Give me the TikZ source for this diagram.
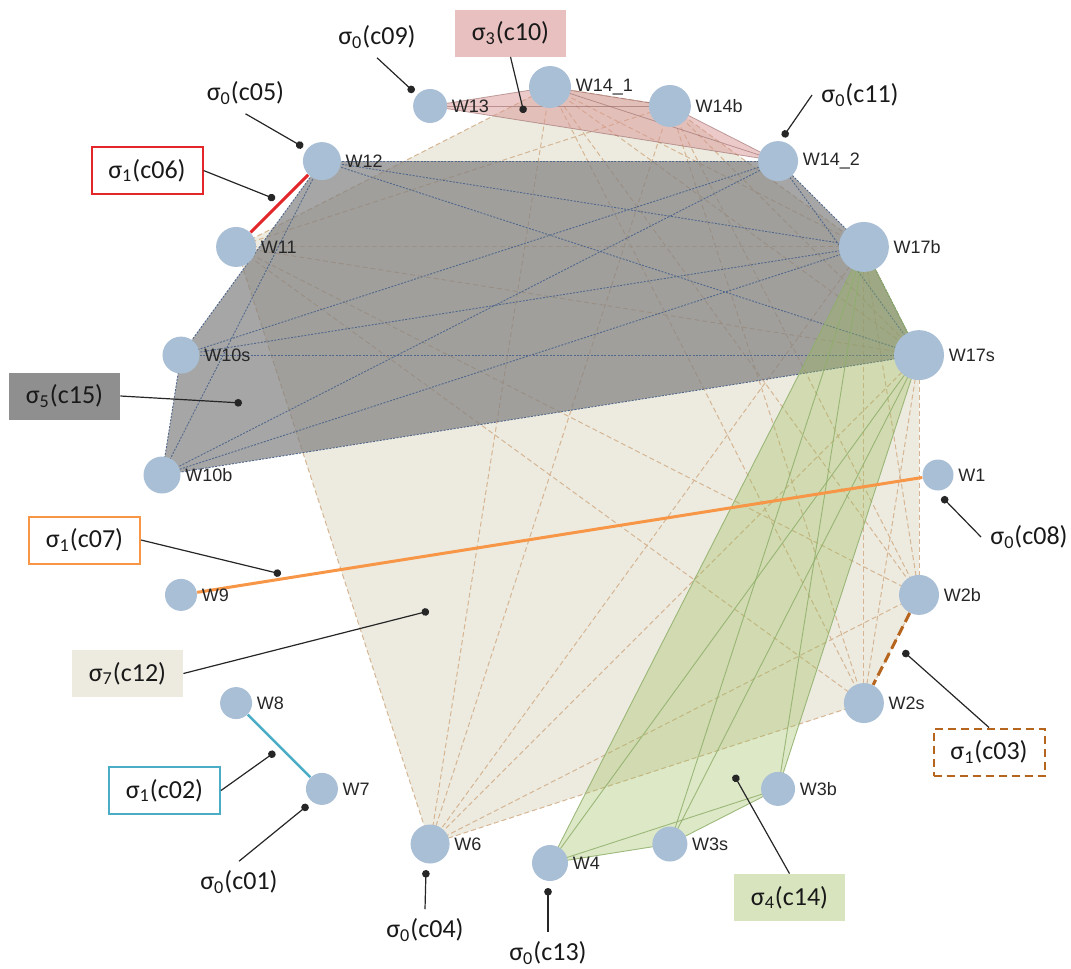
\documentclass[tikz,border=0pt]{standalone}
\usepackage{fontspec}
\setmainfont{Carlito}
\newfontfamily\wfont{Liberation Sans}
\usepackage{tikz}
\usetikzlibrary{arrows.meta,backgrounds}
\definecolor{wblue}{HTML}{A9BFD6}
\definecolor{beige}{HTML}{EDEBE0}
\definecolor{tan}{HTML}{D5B593}
\definecolor{slate}{HTML}{51688C}
\definecolor{olive}{HTML}{9BBB59}
\definecolor{oliveedge}{HTML}{8FAF6A}
\definecolor{rose}{HTML}{D99694}
\definecolor{redline}{HTML}{E3262A}
\definecolor{orangeline}{HTML}{F79646}
\definecolor{tealline}{HTML}{4BACC6}
\definecolor{brownline}{HTML}{B5651D}
\newcommand{\sg}[2]{σ\textsubscript{#1}(#2)}
% all edges of a simplex
\newcommand{\simplexedges}[2]{%
  \foreach \a [count=\i] in {#2} {%
    \foreach \b [count=\j] in {#2} {%
      \ifnum\j>\i \draw[#1] (\a.center) -- (\b.center);\fi}}}

\begin{document}
\begin{tikzpicture}[x=0.5pt,y=-0.5pt,
  wnode/.style={circle,fill=wblue,inner sep=0pt},
  wlab/.style={font=\wfont\fontsize{9}{9}\selectfont,text=black!85,inner sep=2pt},
  sig0/.style={font=\fontsize{13}{13}\selectfont,text=black!90,inner sep=4.5pt},
  sigbox/.style={font=\fontsize{13}{13}\selectfont,text=black!90,minimum width=55.5pt,
                 minimum height=23.5pt,inner sep=0pt},
  leader/.style={draw=black!85,line width=0.6pt,-{Circle[length=3.8pt]}},
  c12edge/.style={tan,line width=0.5pt,dash pattern=on 2.5pt off 1.5pt},
  c15edge/.style={slate,line width=0.45pt,dash pattern=on 1pt off 0.7pt},
  c14edge/.style={oliveedge,line width=0.45pt,draw opacity=0.85},
  c10edge/.style={rose!70!black,line width=0.4pt,draw opacity=0.6}]
\useasboundingbox (0,0) rectangle (1071,969);

% vertices on the ring
\foreach \n/\a/\r/\t in {w1/0/15.5/W1, w2b/-18/20/W2b, w2s/-36/20/W2s, w3b/-54/17/W3b,
    w3s/-72/17.5/W3s, w4/-90/18/W4, w6/-108/19.5/W6, w7/-126/16/W7, w8/-144/16/W8,
    w9/-162/16/W9, w10b/180/18.5/W10b, w10s/162/18.5/W10s, w11/144/20/W11,
    w12/126/19/W12, w13/108/17/W13, w141/90/21/W14\_1, w14b/72/21/W14b,
    w142/54/20/W14\_2, w17b/36/25/W17b, w17s/18/25/W17s}
  \node[wnode,minimum size=\r pt,label={[wlab]0:\t}] (\n)
    at ({550+388*cos(\a)},{475-388*sin(\a)}) {};

\begin{scope}[on background layer]
% sigma_7 (c12)
\fill[beige] (w11.center) -- (w141.center) -- (w14b.center) -- (w17b.center) -- (w17s.center)
  -- (w2b.center) -- (w2s.center) -- (w6.center) -- cycle;
\simplexedges{c12edge}{w11,w141,w14b,w17b,w17s,w2b,w2s,w6}
% sigma_5 (c15)
\fill[black!50,fill opacity=0.7] (w12.center) -- (w142.center) -- (w17b.center) -- (w17s.center)
  -- (w10b.center) -- (w10s.center) -- cycle;
\simplexedges{c15edge}{w12,w142,w17b,w17s,w10b,w10s}
% sigma_4 (c14)
\fill[olive,fill opacity=0.34] (w17b.center) -- (w17s.center) -- (w3b.center) -- (w3s.center)
  -- (w4.center) -- cycle;
\simplexedges{c14edge}{w17b,w17s,w3b,w3s,w4}
% sigma_3 (c10)
\fill[rose,fill opacity=0.5] (w13.center) -- (w141.center) -- (w14b.center) -- (w142.center) -- cycle;
\simplexedges{c10edge}{w13,w141,w14b,w142}
% sigma_1 edges
\draw[redline,line width=1.5pt] (w11) -- (w12);
\draw[orangeline,line width=1.5pt] (w9) -- (w1);
\draw[tealline,line width=1.25pt] (w8) -- (w7);
\draw[brownline,line width=1.5pt,dash pattern=on 5pt off 2.5pt] (w2b) -- (w2s);
\end{scope}

% labels
\node[sig0] (l09) at (377,37) {\sg{0}{c09}};
\node[sigbox,fill=rose!60!white] (l10) at (510.5,33) {\sg{3}{c10}};
\node[sig0] (l05) at (245.5,93) {\sg{0}{c05}};
\node[sigbox,draw=redline,line width=1pt] (l06) at (147,170.5) {\sg{1}{c06}};
\node[sig0] (l11) at (860,95) {\sg{0}{c11}};
\node[sigbox,fill=black!44] (l15) at (64.5,396) {\sg{5}{c15}};
\node[sig0] (l08) at (1029,537) {\sg{0}{c08}};
\node[sigbox,draw=orangeline,line width=1pt] (l07) at (84.5,540) {\sg{1}{c07}};
\node[sigbox,fill=beige] (l12) at (127.5,673.5) {\sg{7}{c12}};
\node[sigbox,draw=brownline,line width=1pt,dash pattern=on 4pt off 2.5pt] (l03) at (989,752) {\sg{1}{c03}};
\node[sigbox,draw=tealline,line width=1pt] (l02) at (164.5,790.5) {\sg{1}{c02}};
\node[sig0] (l01) at (239,882) {\sg{0}{c01}};
\node[sigbox,fill=olive!40!white] (l14) at (789.5,897.5) {\sg{4}{c14}};
\node[sig0] (l04) at (425,930) {\sg{0}{c04}};
\node[sig0] (l13) at (548,953) {\sg{0}{c13}};

% leader ends
\coordinate (d09) at (414,92);
\coordinate (d10) at (524,113);
\coordinate (d05) at (303,147);
\coordinate (d06) at (275,199);
\coordinate (d11) at (783,137);
\coordinate (d15) at (242,403);
\coordinate (d08) at (942,497);
\coordinate (d07) at (281,574);
\coordinate (d12) at (429,611);
\coordinate (d03) at (903,651);
\coordinate (d02) at (275,752);
\coordinate (d01) at (308,805);
\coordinate (d14) at (734,775);
\coordinate (d04) at (426,870);
\coordinate (d13) at (548,888);

\draw[leader] (l09.south) -- (d09);
\draw[leader] (l10.south) -- (d10);
\draw[leader] (l05.south) -- (d05);
\draw[leader] (l06.east) -- (d06);
\draw[leader] (l11.west) -- (d11);
\draw[leader] (l15.east) -- (d15);
\draw[leader] (l08.west) -- (d08);
\draw[leader] (l07.east) -- (d07);
\draw[leader] (l12.east) -- (d12);
\draw[leader] (l03.north) -- (d03);
\draw[leader] (l02.east) -- (d02);
\draw[leader] (l01.north) -- (d01);
\draw[leader] (l14.north) -- (d14);
\draw[leader] (l04.north) -- (d04);
\draw[leader] (l13.north) -- (d13);
\end{tikzpicture}
\end{document}
